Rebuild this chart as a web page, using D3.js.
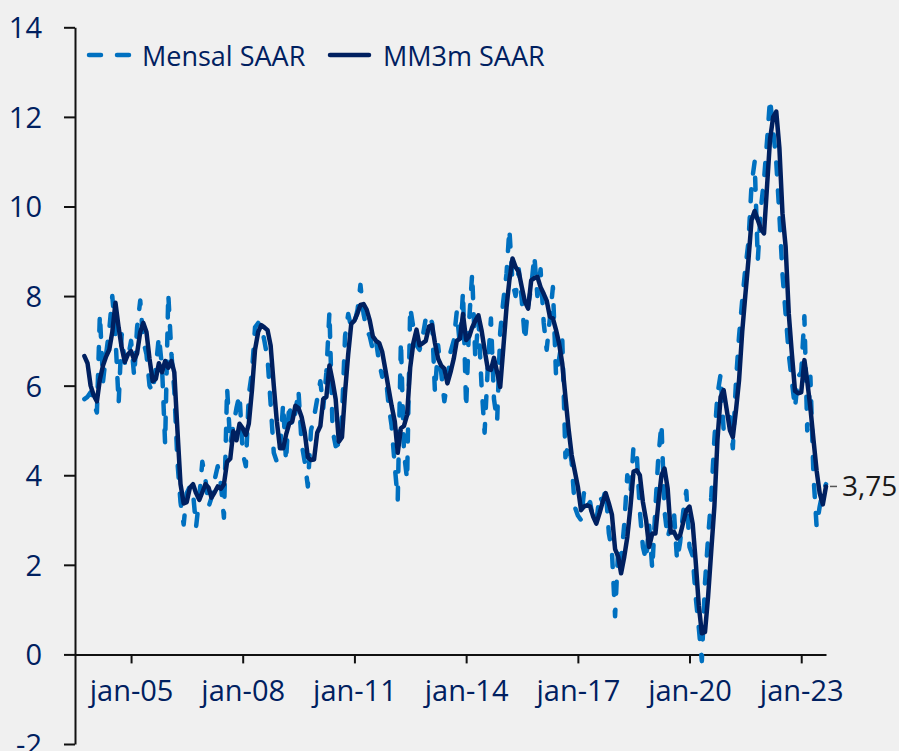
<!DOCTYPE html>
<html>
<head>
<meta charset="utf-8">
<script src="https://cdn.jsdelivr.net/npm/d3@7"></script>
<style>
html,body{margin:0;padding:0;background:#f0f0f0;}
svg{display:block;font-family:"Open Sans",sans-serif;}
</style>
</head>
<body>
<svg id="chart" width="899" height="751"></svg>
<script>
// First observation: October 2003 (monthly data)
const startYear = 2003, startMonth = 9;

// Mensal SAAR (monthly, annualized), Oct 2003 .. Sep 2023
const mensal = [
  5.7, 5.75, 5.85,
  5.6, 5.4, 7.6, 6.1, 6.7, 7.25, 8.0, 7.1, 5.6, 7.15, 6.5, 6.6,
  7.0, 6.2, 7.3, 7.9, 7.0, 6.7, 6.0, 5.85, 6.4, 7.1, 6.4, 4.7,
  8.05, 6.7, 5.9, 4.3, 3.4, 2.9, 3.6, 3.75, 3.6, 2.85, 3.5, 4.3,
  3.9, 3.3, 3.5, 3.9, 4.2, 3.8, 3.05, 5.95, 4.7, 5.1, 5.5, 5.8,
  4.5, 4.2, 5.8, 6.3, 7.3, 7.4, 7.35, 7.0, 6.6, 5.6, 4.5, 4.3,
  4.6, 5.6, 4.3, 5.6, 5.1, 5.4, 5.9, 4.7, 4.3, 3.75, 5.0, 5.3,
  5.7, 6.1, 5.5, 6.3, 7.65, 5.0, 4.65, 4.7, 5.3, 7.1, 7.6, 7.3,
  7.4, 7.7, 8.25, 7.6, 7.25, 7.1, 6.8, 7.0, 6.5, 6.2, 6.3, 5.6,
  5.1, 4.2, 3.45, 7.0, 4.5, 3.9, 7.75, 7.3, 6.9, 6.8, 7.1, 7.5,
  7.6, 7.4, 5.85, 6.9, 6.3, 5.65, 6.1, 6.75, 7.0, 7.65, 6.9, 8.1,
  5.5, 7.5, 8.5, 6.6, 7.5, 6.0, 4.95, 6.4, 7.5, 5.7, 5.2, 7.2,
  7.9, 8.5, 9.5, 8.3, 8.0, 8.6, 7.9, 7.0, 7.8, 8.2, 8.9, 8.0,
  8.6, 7.4, 6.8, 7.5, 8.2, 6.2, 6.6, 7.05, 4.4, 4.7, 4.3, 3.3,
  3.1, 3.0, 3.6, 3.3, 3.4, 3.0, 2.95, 3.55, 3.4, 3.7, 2.7, 2.3,
  0.85, 2.4, 2.1, 2.9, 4.0, 3.6, 4.65, 4.5, 3.2, 2.4, 2.1, 2.9,
  1.9, 3.3, 4.4, 5.15, 3.2, 2.6, 2.9, 3.2, 2.1, 2.5, 3.2, 3.65,
  2.4, 2.2, 1.3, 0.6, -0.15, 1.6, 2.6, 3.5, 4.8, 5.8, 6.25, 5.0,
  5.2, 5.3, 4.6, 6.1, 7.1, 7.9, 8.6, 9.2, 10.5, 11.0, 8.8, 9.95,
  10.6, 11.5, 12.4, 11.7, 11.0, 9.8, 8.5, 7.6, 6.7, 6.1, 5.5, 6.2,
  6.3, 7.55, 5.0, 6.2, 4.0, 2.85, 3.3, 3.65, 3.8
];

// MM3m SAAR (3-month moving average, annualized), Oct 2003 .. Sep 2023
const mm3m = [
  6.66, 6.5, 6.0,
  5.78, 5.65, 6.14, 6.45, 6.65, 6.8, 7.2, 7.85, 7.3, 6.85, 6.53, 6.7,
  6.77, 6.57, 6.72, 7.2, 7.4, 7.2, 6.6, 6.1, 6.15, 6.5, 6.3, 6.55,
  6.4, 6.55, 6.3, 5.0, 3.8, 3.37, 3.4, 3.72, 3.8, 3.6, 3.45, 3.62,
  3.8, 3.72, 3.5, 3.62, 3.75, 3.7, 3.8, 4.3, 4.37, 4.98, 4.78, 5.15,
  5.05, 4.9, 5.15, 5.9, 6.8, 7.2, 7.35, 7.3, 7.24, 6.9, 6.0, 5.2,
  4.6, 4.6, 4.9, 5.15, 5.2, 5.55, 5.5, 5.3, 4.95, 4.4, 4.34, 4.35,
  4.95, 5.1, 5.7, 5.75, 6.45, 6.1, 5.7, 4.75, 4.85, 5.85, 6.7, 7.38,
  7.45, 7.62, 7.8, 7.82, 7.7, 7.45, 7.1, 7.0, 6.95, 6.75, 6.35, 5.95,
  5.55, 5.2, 4.5, 5.05, 5.1, 5.35, 6.4, 6.95, 7.25, 6.9, 6.95, 7.0,
  7.32, 7.35, 6.95, 6.6, 6.45, 6.38, 6.05, 6.3, 6.6, 7.0, 7.05, 7.6,
  7.02, 7.1, 7.3, 7.45, 7.57, 7.24, 6.8, 6.38, 6.35, 6.62, 6.3, 5.97,
  6.85, 7.75, 8.35, 8.84, 8.65, 8.54, 8.2, 7.87, 7.72, 8.35, 8.4, 8.43,
  8.2, 8.05, 7.9, 7.54, 7.5, 7.24, 6.94, 6.49, 5.75, 5.05, 4.45, 4.1,
  3.74, 3.22, 3.3, 3.33, 3.3, 3.07, 2.92, 3.15, 3.4, 3.6, 3.37, 3.12,
  2.35, 2.18, 1.81, 2.18, 2.62, 3.3, 4.08, 4.11, 4.0, 3.4, 3.0, 2.4,
  2.7, 2.7, 3.37, 4.0, 4.15, 3.7, 2.72, 2.74, 2.59, 2.66, 2.95, 3.22,
  3.3, 2.92, 2.1, 1.1, 0.47, 0.5, 1.28, 2.3, 3.3, 4.78, 5.75, 5.9,
  5.45, 5.0, 4.85, 5.45, 6.12, 7.2, 8.0, 8.8, 9.7, 9.9, 9.7, 9.5,
  9.4, 10.5, 11.5, 12.0, 12.12, 11.3, 9.85, 9.1, 7.6, 6.72, 5.88, 5.83,
  5.85, 6.57, 6.1, 5.5, 4.8, 4.1, 3.6, 3.35, 3.75
];

const seriesNames = ["Mensal SAAR", "MM3m SAAR"];
const yTicks = [-2, 0, 2, 4, 6, 8, 10, 12, 14];
const xTickYears = [2005, 2008, 2011, 2014, 2017, 2020, 2023];
const xTickLabels = ["jan-05", "jan-08", "jan-11", "jan-14", "jan-17", "jan-20", "jan-23"];

const W = 899, H = 751;
const colDash = "#0070c0", colSolid = "#002060", colText = "#002060";
const FS_TICK = 29, FS_LEG = 27, FS_VAL = 28;

const svg = d3.select("#chart");
svg.append("rect").attr("width", W).attr("height", H).attr("fill", "#f0f0f0");

const dates = mensal.map((_, i) => new Date(startYear, startMonth + i, 1));

const x = d3.scaleTime()
  .domain([new Date(2003, 6, 1), new Date(2023, 8, 1)])
  .range([75, 826]);
const y = d3.scaleLinear().domain([-2, 14]).range([744, 27.3]);

// Y axis
const gy = svg.append("g").attr("transform", "translate(75,0)")
  .call(d3.axisLeft(y).tickValues(yTicks).tickSize(11).tickSizeOuter(0)
    .tickPadding(22).tickFormat(d => String(d)));
gy.select(".domain").attr("stroke", "#111").attr("stroke-width", 2);
gy.selectAll(".tick line").attr("stroke", "#111").attr("stroke-width", 2);
gy.selectAll(".tick text").attr("fill", colText).attr("font-size", FS_TICK)
  .attr("font-family", '"Open Sans",sans-serif').attr("dy", "0.36em");

// X axis at y = 0
const tickDates = xTickYears.map(yr => new Date(yr, 0, 1));
const gx = svg.append("g").attr("transform", `translate(0,${y(0)})`)
  .call(d3.axisBottom(x).tickValues(tickDates).tickSize(9).tickSizeOuter(0)
    .tickFormat((d, i) => xTickLabels[i]));
gx.select(".domain").attr("stroke", "#111").attr("stroke-width", 2);
gx.selectAll(".tick line").attr("stroke", "#111").attr("stroke-width", 2);
gx.selectAll(".tick text").attr("fill", colText).attr("font-size", FS_TICK)
  .attr("font-family", '"Open Sans",sans-serif').attr("dy", null).attr("y", 47);

// Lines
const line = d3.line().x((d, i) => x(dates[i])).y(d => y(d)).curve(d3.curveLinear);
svg.append("path").datum(mensal).attr("d", line)
  .attr("fill", "none").attr("stroke", colDash).attr("stroke-width", 4.5)
  .attr("stroke-dasharray", "12,16").attr("stroke-linecap", "round")
  .attr("stroke-linejoin", "round");
svg.append("path").datum(mm3m).attr("d", line)
  .attr("fill", "none").attr("stroke", colSolid).attr("stroke-width", 4.5)
  .attr("stroke-linejoin", "round").attr("stroke-linecap", "round");

// Legend
const lg = svg.append("g").attr("font-family", '"Open Sans",sans-serif').attr("font-size", FS_LEG);
lg.append("line").attr("x1", 89).attr("x2", 129).attr("y1", 55).attr("y2", 55)
  .attr("stroke", colDash).attr("stroke-width", 4.5).attr("stroke-dasharray", "12,16")
  .attr("stroke-linecap", "round");
lg.append("text").attr("x", 142).attr("y", 66).attr("fill", colText).text(seriesNames[0]);
lg.append("line").attr("x1", 330).attr("x2", 369).attr("y1", 55).attr("y2", 55)
  .attr("stroke", colSolid).attr("stroke-width", 4.5).attr("stroke-linecap", "round");
lg.append("text").attr("x", 383).attr("y", 66).attr("fill", colText).text(seriesNames[1]);

// Last value label
const lastV = mm3m[mm3m.length - 1];
const ly = y(lastV);
svg.append("line").attr("x1", 830).attr("x2", 837).attr("y1", ly).attr("y2", ly)
  .attr("stroke", "#555").attr("stroke-width", 1.5);
svg.append("text").attr("x", 842).attr("y", ly + 10).attr("fill", "#1a1a1a")
  .attr("font-size", FS_VAL).attr("font-family", '"Open Sans",sans-serif')
  .text(d3.format(".2f")(lastV).replace(".", ","));
</script>
</body>
</html>
